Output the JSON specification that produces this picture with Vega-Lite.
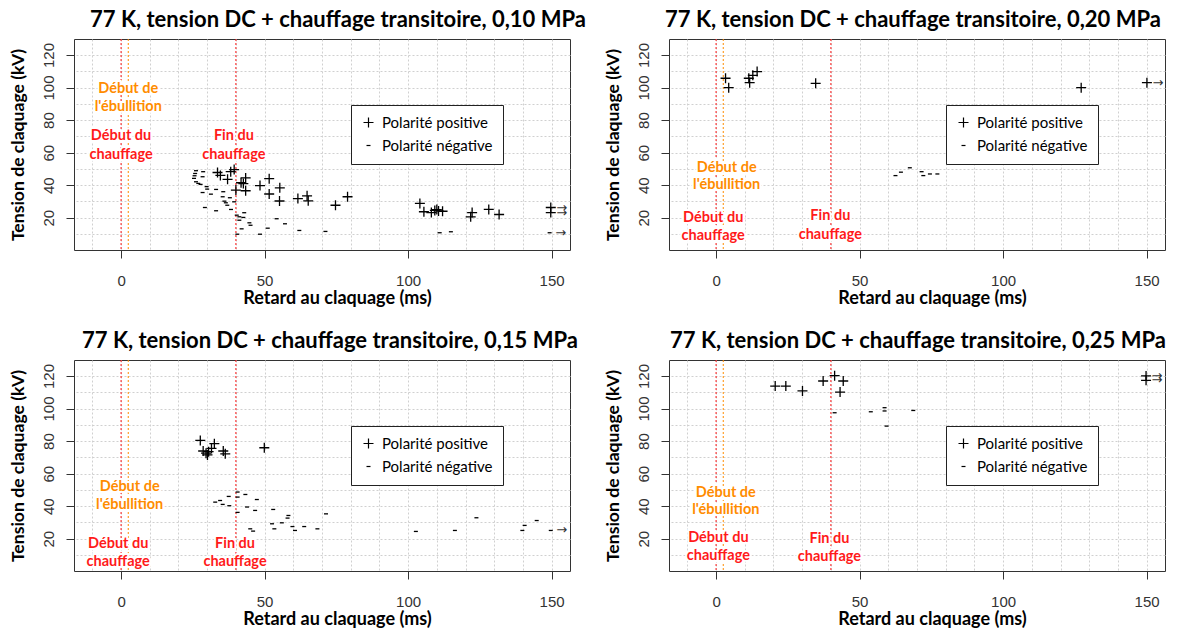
{
  "$schema": "https://vega.github.io/schema/vega-lite/v6.json",
  "background": "white",
  "padding": {"left": 8, "top": 8, "right": 4, "bottom": 4},
  "config": {
    "font": "Lato",
    "view": {"stroke": "#333", "strokeWidth": 1},
    "title": {"font": "Lato", "fontSize": 22, "fontWeight": "bold", "color": "black", "anchor": "middle", "frame": "group", "offset": 7},
    "axis": {
      "labelFont": "Liberation Sans", "labelFontSize": 15, "labelColor": "#333",
      "titleFont": "Lato", "titleFontSize": 18, "titleFontWeight": "bold", "titleColor": "black",
      "tickColor": "#333", "tickSize": 8, "gridColor": "#d0d0d0", "gridDash": [2, 2],
      "domain": false, "labelFlush": false, "labelOverlap": false
    },
    "axisX": {"labelPadding": 15, "titlePadding": 1},
    "axisY": {"labelPadding": 10, "titlePadding": 14, "titleFontSize": 17.6},
    "legend": {"orient": "none", "legendX": 277, "legendY": 66, "title": null, "strokeColor": "#222", "fillColor": "white", "padding": 10, "labelFont": "Lato", "labelFontSize": 15, "labelColor": "black", "symbolStrokeColor": "black", "symbolFillColor": "transparent", "symbolStrokeWidth": 1.2, "symbolSize": 100, "labelOffset": 6, "rowPadding": 7}
  },
  "datasets": {
    "vlines": [
      {"ms": 0, "ev": "chauffage"},
      {"ms": 2.5, "ev": "ébullition"},
      {"ms": 40, "ev": "chauffage"}
    ],
    "labels": [
      {"p": "0,10", "ms": 2.5, "kV": 98.9, "txt": "Début de", "ev": "ébullition"},
      {"p": "0,10", "ms": 2.5, "kV": 87.8, "txt": "l'ébullition", "ev": "ébullition"},
      {"p": "0,10", "ms": 0, "kV": 70, "txt": "Début du", "ev": "chauffage"},
      {"p": "0,10", "ms": 0, "kV": 58.5, "txt": "chauffage", "ev": "chauffage"},
      {"p": "0,10", "ms": 39.3, "kV": 70, "txt": "Fin du", "ev": "chauffage"},
      {"p": "0,10", "ms": 39.3, "kV": 58.5, "txt": "chauffage", "ev": "chauffage"},
      {"p": "0,20", "ms": 3.7, "kV": 50.3, "txt": "Début de", "ev": "ébullition"},
      {"p": "0,20", "ms": 3.7, "kV": 39.9, "txt": "l'ébullition", "ev": "ébullition"},
      {"p": "0,20", "ms": -1, "kV": 19.6, "txt": "Début du", "ev": "chauffage"},
      {"p": "0,20", "ms": -1, "kV": 9.1, "txt": "chauffage", "ev": "chauffage"},
      {"p": "0,20", "ms": 39.8, "kV": 21, "txt": "Fin du", "ev": "chauffage"},
      {"p": "0,20", "ms": 39.8, "kV": 9.7, "txt": "chauffage", "ev": "chauffage"},
      {"p": "0,15", "ms": 3, "kV": 51.8, "txt": "Début de", "ev": "ébullition"},
      {"p": "0,15", "ms": 3, "kV": 41, "txt": "l'ébullition", "ev": "ébullition"},
      {"p": "0,15", "ms": -1, "kV": 16.9, "txt": "Début du", "ev": "chauffage"},
      {"p": "0,15", "ms": -1, "kV": 5.6, "txt": "chauffage", "ev": "chauffage"},
      {"p": "0,15", "ms": 39.7, "kV": 17, "txt": "Fin du", "ev": "chauffage"},
      {"p": "0,15", "ms": 39.7, "kV": 5.6, "txt": "chauffage", "ev": "chauffage"},
      {"p": "0,25", "ms": 3.4, "kV": 48.2, "txt": "Début de", "ev": "ébullition"},
      {"p": "0,25", "ms": 3.4, "kV": 37.4, "txt": "l'ébullition", "ev": "ébullition"},
      {"p": "0,25", "ms": 0.8, "kV": 20.6, "txt": "Début du", "ev": "chauffage"},
      {"p": "0,25", "ms": 0.8, "kV": 9.4, "txt": "chauffage", "ev": "chauffage"},
      {"p": "0,25", "ms": 39.5, "kV": 20, "txt": "Fin du", "ev": "chauffage"},
      {"p": "0,25", "ms": 39.5, "kV": 8.9, "txt": "chauffage", "ev": "chauffage"}
    ],
    "pts": [
      {"p": "0,10", "ms": 33.6, "kV": 47.8, "pol": "Polarité positive"},
      {"p": "0,10", "ms": 34.6, "kV": 46.0, "pol": "Polarité positive"},
      {"p": "0,10", "ms": 37.1, "kV": 43.6, "pol": "Polarité positive"},
      {"p": "0,10", "ms": 38.2, "kV": 48.3, "pol": "Polarité positive"},
      {"p": "0,10", "ms": 39.4, "kV": 49.6, "pol": "Polarité positive"},
      {"p": "0,10", "ms": 43.4, "kV": 44.5, "pol": "Polarité positive"},
      {"p": "0,10", "ms": 41.8, "kV": 41.5, "pol": "Polarité positive"},
      {"p": "0,10", "ms": 42.6, "kV": 41.0, "pol": "Polarité positive"},
      {"p": "0,10", "ms": 40.0, "kV": 37.0, "pol": "Polarité positive"},
      {"p": "0,10", "ms": 43.4, "kV": 36.6, "pol": "Polarité positive"},
      {"p": "0,10", "ms": 48.4, "kV": 39.8, "pol": "Polarité positive"},
      {"p": "0,10", "ms": 51.6, "kV": 44.0, "pol": "Polarité positive"},
      {"p": "0,10", "ms": 55.3, "kV": 38.4, "pol": "Polarité positive"},
      {"p": "0,10", "ms": 51.6, "kV": 34.6, "pol": "Polarité positive"},
      {"p": "0,10", "ms": 55.2, "kV": 30.3, "pol": "Polarité positive"},
      {"p": "0,10", "ms": 61.6, "kV": 31.8, "pol": "Polarité positive"},
      {"p": "0,10", "ms": 64.8, "kV": 33.5, "pol": "Polarité positive"},
      {"p": "0,10", "ms": 65.2, "kV": 30.4, "pol": "Polarité positive"},
      {"p": "0,10", "ms": 74.7, "kV": 27.7, "pol": "Polarité positive"},
      {"p": "0,10", "ms": 78.9, "kV": 32.9, "pol": "Polarité positive"},
      {"p": "0,10", "ms": 104.1, "kV": 28.8, "pol": "Polarité positive"},
      {"p": "0,10", "ms": 105.5, "kV": 23.7, "pol": "Polarité positive"},
      {"p": "0,10", "ms": 108.1, "kV": 23.2, "pol": "Polarité positive"},
      {"p": "0,10", "ms": 109.3, "kV": 24.5, "pol": "Polarité positive"},
      {"p": "0,10", "ms": 110.0, "kV": 25.0, "pol": "Polarité positive"},
      {"p": "0,10", "ms": 110.6, "kV": 24.2, "pol": "Polarité positive"},
      {"p": "0,10", "ms": 112.0, "kV": 24.0, "pol": "Polarité positive"},
      {"p": "0,10", "ms": 121.8, "kV": 20.6, "pol": "Polarité positive"},
      {"p": "0,10", "ms": 122.3, "kV": 23.2, "pol": "Polarité positive"},
      {"p": "0,10", "ms": 128.1, "kV": 25.1, "pol": "Polarité positive"},
      {"p": "0,10", "ms": 131.7, "kV": 22.0, "pol": "Polarité positive"},
      {"p": "0,10", "ms": 149.7, "kV": 26.3, "pol": "Polarité positive", "cens": true},
      {"p": "0,10", "ms": 149.7, "kV": 23.2, "pol": "Polarité positive", "cens": true},
      {"p": "0,10", "ms": 26.1, "kV": 48.9, "pol": "Polarité négative"},
      {"p": "0,10", "ms": 25.8, "kV": 47.2, "pol": "Polarité négative"},
      {"p": "0,10", "ms": 28.6, "kV": 48.3, "pol": "Polarité négative"},
      {"p": "0,10", "ms": 25.6, "kV": 45.8, "pol": "Polarité négative"},
      {"p": "0,10", "ms": 28.4, "kV": 45.2, "pol": "Polarité négative"},
      {"p": "0,10", "ms": 25.4, "kV": 44.2, "pol": "Polarité négative"},
      {"p": "0,10", "ms": 26.1, "kV": 42.1, "pol": "Polarité négative"},
      {"p": "0,10", "ms": 26.9, "kV": 41.1, "pol": "Polarité négative"},
      {"p": "0,10", "ms": 27.7, "kV": 40.5, "pol": "Polarité négative"},
      {"p": "0,10", "ms": 29.8, "kV": 39.1, "pol": "Polarité négative"},
      {"p": "0,10", "ms": 30.0, "kV": 37.6, "pol": "Polarité négative"},
      {"p": "0,10", "ms": 33.1, "kV": 37.4, "pol": "Polarité négative"},
      {"p": "0,10", "ms": 35.6, "kV": 36.0, "pol": "Polarité négative"},
      {"p": "0,10", "ms": 28.4, "kV": 35.5, "pol": "Polarité négative"},
      {"p": "0,10", "ms": 31.3, "kV": 34.5, "pol": "Polarité négative"},
      {"p": "0,10", "ms": 35.4, "kV": 32.9, "pol": "Polarité négative"},
      {"p": "0,10", "ms": 37.9, "kV": 32.3, "pol": "Polarité négative"},
      {"p": "0,10", "ms": 36.0, "kV": 30.2, "pol": "Polarité négative"},
      {"p": "0,10", "ms": 36.5, "kV": 29.2, "pol": "Polarité négative"},
      {"p": "0,10", "ms": 37.0, "kV": 27.7, "pol": "Polarité négative"},
      {"p": "0,10", "ms": 39.4, "kV": 29.8, "pol": "Polarité négative"},
      {"p": "0,10", "ms": 29.2, "kV": 26.3, "pol": "Polarité négative"},
      {"p": "0,10", "ms": 33.1, "kV": 24.3, "pol": "Polarité négative"},
      {"p": "0,10", "ms": 38.3, "kV": 25.1, "pol": "Polarité négative"},
      {"p": "0,10", "ms": 40.3, "kV": 21.6, "pol": "Polarité négative"},
      {"p": "0,10", "ms": 42.9, "kV": 23.1, "pol": "Polarité négative"},
      {"p": "0,10", "ms": 41.2, "kV": 20.6, "pol": "Polarité négative"},
      {"p": "0,10", "ms": 42.6, "kV": 20.2, "pol": "Polarité négative"},
      {"p": "0,10", "ms": 41.2, "kV": 18.5, "pol": "Polarité négative"},
      {"p": "0,10", "ms": 44.7, "kV": 16.9, "pol": "Polarité négative"},
      {"p": "0,10", "ms": 45.1, "kV": 15.4, "pol": "Polarité négative"},
      {"p": "0,10", "ms": 42.0, "kV": 13.2, "pol": "Polarité négative"},
      {"p": "0,10", "ms": 54.2, "kV": 19.4, "pol": "Polarité négative"},
      {"p": "0,10", "ms": 57.1, "kV": 16.3, "pol": "Polarité négative"},
      {"p": "0,10", "ms": 51.1, "kV": 13.6, "pol": "Polarité négative"},
      {"p": "0,10", "ms": 40.5, "kV": 9.9, "pol": "Polarité négative"},
      {"p": "0,10", "ms": 48.4, "kV": 9.9, "pol": "Polarité négative"},
      {"p": "0,10", "ms": 62.1, "kV": 12.2, "pol": "Polarité négative"},
      {"p": "0,10", "ms": 71.2, "kV": 11.6, "pol": "Polarité négative"},
      {"p": "0,10", "ms": 111.0, "kV": 10.8, "pol": "Polarité négative"},
      {"p": "0,10", "ms": 114.9, "kV": 11.4, "pol": "Polarité négative"},
      {"p": "0,10", "ms": 149.3, "kV": 10.8, "pol": "Polarité négative", "cens": true},
      {"p": "0,20", "ms": 3.3, "kV": 105.7, "pol": "Polarité positive"},
      {"p": "0,20", "ms": 4.4, "kV": 99.9, "pol": "Polarité positive"},
      {"p": "0,20", "ms": 11.4, "kV": 105.7, "pol": "Polarité positive"},
      {"p": "0,20", "ms": 11.7, "kV": 103.0, "pol": "Polarité positive"},
      {"p": "0,20", "ms": 12.8, "kV": 107.5, "pol": "Polarité positive"},
      {"p": "0,20", "ms": 14.3, "kV": 109.8, "pol": "Polarité positive"},
      {"p": "0,20", "ms": 34.7, "kV": 102.6, "pol": "Polarité positive"},
      {"p": "0,20", "ms": 127.2, "kV": 99.9, "pol": "Polarité positive"},
      {"p": "0,20", "ms": 150.1, "kV": 103.0, "pol": "Polarité positive", "cens": true},
      {"p": "0,20", "ms": 62.5, "kV": 45.9, "pol": "Polarité négative"},
      {"p": "0,20", "ms": 64.4, "kV": 48.0, "pol": "Polarité négative"},
      {"p": "0,20", "ms": 67.5, "kV": 50.7, "pol": "Polarité négative"},
      {"p": "0,20", "ms": 71.6, "kV": 48.3, "pol": "Polarité négative"},
      {"p": "0,20", "ms": 72.2, "kV": 45.9, "pol": "Polarité négative"},
      {"p": "0,20", "ms": 74.5, "kV": 46.9, "pol": "Polarité négative"},
      {"p": "0,20", "ms": 77.1, "kV": 46.9, "pol": "Polarité négative"},
      {"p": "0,15", "ms": 27.6, "kV": 80.4, "pol": "Polarité positive"},
      {"p": "0,15", "ms": 28.6, "kV": 73.9, "pol": "Polarité positive"},
      {"p": "0,15", "ms": 29.6, "kV": 72.6, "pol": "Polarité positive"},
      {"p": "0,15", "ms": 30.1, "kV": 71.5, "pol": "Polarité positive"},
      {"p": "0,15", "ms": 30.5, "kV": 73.5, "pol": "Polarité positive"},
      {"p": "0,15", "ms": 31.5, "kV": 75.5, "pol": "Polarité positive"},
      {"p": "0,15", "ms": 32.5, "kV": 78.4, "pol": "Polarité positive"},
      {"p": "0,15", "ms": 35.6, "kV": 73.9, "pol": "Polarité positive"},
      {"p": "0,15", "ms": 36.3, "kV": 72.2, "pol": "Polarité positive"},
      {"p": "0,15", "ms": 49.9, "kV": 75.9, "pol": "Polarité positive"},
      {"p": "0,15", "ms": 32.8, "kV": 42.5, "pol": "Polarité négative"},
      {"p": "0,15", "ms": 34.5, "kV": 43.5, "pol": "Polarité négative"},
      {"p": "0,15", "ms": 35.4, "kV": 41.1, "pol": "Polarité négative"},
      {"p": "0,15", "ms": 37.7, "kV": 40.3, "pol": "Polarité négative"},
      {"p": "0,15", "ms": 37.5, "kV": 46.0, "pol": "Polarité négative"},
      {"p": "0,15", "ms": 40.6, "kV": 48.7, "pol": "Polarité négative"},
      {"p": "0,15", "ms": 40.6, "kV": 45.6, "pol": "Polarité négative"},
      {"p": "0,15", "ms": 43.3, "kV": 47.2, "pol": "Polarité négative"},
      {"p": "0,15", "ms": 47.3, "kV": 44.1, "pol": "Polarité négative"},
      {"p": "0,15", "ms": 43.9, "kV": 39.5, "pol": "Polarité négative"},
      {"p": "0,15", "ms": 40.6, "kV": 36.2, "pol": "Polarité négative"},
      {"p": "0,15", "ms": 46.7, "kV": 37.4, "pol": "Polarité négative"},
      {"p": "0,15", "ms": 53.0, "kV": 38.0, "pol": "Polarité négative"},
      {"p": "0,15", "ms": 58.3, "kV": 34.3, "pol": "Polarité négative"},
      {"p": "0,15", "ms": 58.0, "kV": 32.7, "pol": "Polarité négative"},
      {"p": "0,15", "ms": 56.0, "kV": 29.8, "pol": "Polarité négative"},
      {"p": "0,15", "ms": 52.6, "kV": 29.2, "pol": "Polarité négative"},
      {"p": "0,15", "ms": 59.7, "kV": 27.5, "pol": "Polarité négative"},
      {"p": "0,15", "ms": 63.8, "kV": 27.5, "pol": "Polarité négative"},
      {"p": "0,15", "ms": 53.4, "kV": 26.1, "pol": "Polarité négative"},
      {"p": "0,15", "ms": 60.6, "kV": 25.1, "pol": "Polarité négative"},
      {"p": "0,15", "ms": 68.4, "kV": 26.1, "pol": "Polarité négative"},
      {"p": "0,15", "ms": 71.4, "kV": 35.3, "pol": "Polarité négative"},
      {"p": "0,15", "ms": 45.0, "kV": 26.1, "pol": "Polarité négative"},
      {"p": "0,15", "ms": 46.0, "kV": 24.7, "pol": "Polarité négative"},
      {"p": "0,15", "ms": 102.7, "kV": 24.5, "pol": "Polarité négative"},
      {"p": "0,15", "ms": 116.3, "kV": 25.1, "pol": "Polarité négative"},
      {"p": "0,15", "ms": 123.8, "kV": 32.9, "pol": "Polarité négative"},
      {"p": "0,15", "ms": 140.6, "kV": 28.2, "pol": "Polarité négative"},
      {"p": "0,15", "ms": 139.8, "kV": 25.1, "pol": "Polarité négative"},
      {"p": "0,15", "ms": 144.8, "kV": 31.2, "pol": "Polarité négative"},
      {"p": "0,15", "ms": 149.7, "kV": 25.1, "pol": "Polarité négative", "cens": true},
      {"p": "0,25", "ms": 20.6, "kV": 113.8, "pol": "Polarité positive"},
      {"p": "0,25", "ms": 24.3, "kV": 113.8, "pol": "Polarité positive"},
      {"p": "0,25", "ms": 30.1, "kV": 110.8, "pol": "Polarité positive"},
      {"p": "0,25", "ms": 37.3, "kV": 116.9, "pol": "Polarité positive"},
      {"p": "0,25", "ms": 41.3, "kV": 120.2, "pol": "Polarité positive"},
      {"p": "0,25", "ms": 44.3, "kV": 116.9, "pol": "Polarité positive"},
      {"p": "0,25", "ms": 43.2, "kV": 110.1, "pol": "Polarité positive"},
      {"p": "0,25", "ms": 149.8, "kV": 120.0, "pol": "Polarité positive", "cens": true},
      {"p": "0,25", "ms": 149.8, "kV": 117.3, "pol": "Polarité positive", "cens": true},
      {"p": "0,25", "ms": 41.3, "kV": 97.4, "pol": "Polarité négative"},
      {"p": "0,25", "ms": 53.9, "kV": 98.0, "pol": "Polarité négative"},
      {"p": "0,25", "ms": 58.7, "kV": 100.5, "pol": "Polarité négative"},
      {"p": "0,25", "ms": 58.7, "kV": 98.5, "pol": "Polarité négative"},
      {"p": "0,25", "ms": 59.4, "kV": 89.2, "pol": "Polarité négative"},
      {"p": "0,25", "ms": 68.7, "kV": 98.8, "pol": "Polarité négative"}
    ]
  },
  "columns": 2,
  "spacing": {"row": 21, "column": 16},
  "resolve": {
    "scale": {"x": "independent", "y": "independent", "shape": "independent"},
    "legend": {"shape": "independent"}
  },
  "concat": [
    {
      "width": 496, "height": 211,
      "title": {"text": "77 K, tension DC + chauffage transitoire, 0,10 MPa", "dx": 16},
      "resolve": {"axis": {"x": "independent", "y": "independent"}},
      "layer": [
        {"data": {"name": "vlines"}, "mark": {"type": "rule", "strokeDash": [2, 2], "strokeWidth": 1},
         "encoding": {"x": {"field": "ms", "type": "quantitative", "scale": {"domain": [-16.4, 156.4], "nice": false, "zero": false},
                            "axis": {"orient": "top", "values": [-10, 0, 10, 20, 30, 40, 50, 60, 70, 80, 90, 100, 110, 120, 130, 140, 150], "grid": true, "labels": false, "ticks": false, "domain": false, "title": null}},
                      "color": {"field": "ev", "type": "nominal", "scale": {"domain": ["chauffage", "ébullition"], "range": ["#ff1a1a", "#ff8c00"]}, "legend": null}}},
        {"data": {"name": "labels"}, "transform": [{"filter": "datum.p === '0,10'"}],
         "mark": {"type": "text", "font": "Lato", "fontSize": 14.5, "fontWeight": "bold", "stroke": "white", "strokeWidth": 4, "align": "center", "baseline": "middle"},
         "encoding": {"x": {"field": "ms", "type": "quantitative", "axis": null},
                      "y": {"field": "kV", "type": "quantitative", "scale": {"domain": [0.2, 129.8], "nice": false, "zero": false},
                            "axis": {"orient": "right", "values": [10, 20, 30, 40, 50, 60, 70, 80, 90, 100, 110, 120], "grid": true, "labels": false, "ticks": false, "domain": false, "title": null}},
                      "text": {"field": "txt"}, "color": {"field": "ev", "type": "nominal", "legend": null}}},
        {"data": {"name": "labels"}, "transform": [{"filter": "datum.p === '0,10'"}],
         "mark": {"type": "text", "font": "Lato", "fontSize": 14.5, "fontWeight": "bold", "align": "center", "baseline": "middle"},
         "encoding": {"x": {"field": "ms", "type": "quantitative", "axis": null}, "y": {"field": "kV", "type": "quantitative", "axis": null},
                      "text": {"field": "txt"}, "color": {"field": "ev", "type": "nominal", "legend": null}}},
        {"data": {"name": "pts"}, "transform": [{"filter": "datum.p === '0,10'"}],
         "mark": {"type": "point", "filled": false, "color": "black", "strokeWidth": 1.3, "size": 100, "opacity": 1},
         "encoding": {
           "x": {"field": "ms", "type": "quantitative", "axis": {"orient": "bottom", "title": "Retard au claquage (ms)", "values": [0, 50, 100, 150], "grid": false, "titleX": 263}},
           "y": {"field": "kV", "type": "quantitative", "axis": {"orient": "left", "title": "Tension de claquage (kV)", "values": [20, 40, 60, 80, 100, 120], "labelAngle": 270, "grid": false}},
           "shape": {"field": "pol", "type": "nominal", "scale": {"domain": ["Polarité positive", "Polarité négative"], "range": ["M-1,0L1,0M0,-1L0,1", "M-0.4,0L0.4,0"]}}
         }},
        {"data": {"name": "pts"}, "transform": [{"filter": "datum.p === '0,10' && datum.cens === true"}],
         "mark": {"type": "text", "text": "→", "font": "DejaVu Sans", "fontSize": 13, "color": "#333", "dx": 11, "align": "center", "baseline": "middle"},
         "encoding": {"x": {"field": "ms", "type": "quantitative", "axis": null}, "y": {"field": "kV", "type": "quantitative", "axis": null}}}
      ]
    },
    {
      "width": 496, "height": 211,
      "title": {"text": "77 K, tension DC + chauffage transitoire, 0,20 MPa", "dx": -4},
      "resolve": {"axis": {"x": "independent", "y": "independent"}},
      "layer": [
        {"data": {"name": "vlines"}, "mark": {"type": "rule", "strokeDash": [2, 2], "strokeWidth": 1},
         "encoding": {"x": {"field": "ms", "type": "quantitative", "scale": {"domain": [-16.4, 156.4], "nice": false, "zero": false},
                            "axis": {"orient": "top", "values": [-10, 0, 10, 20, 30, 40, 50, 60, 70, 80, 90, 100, 110, 120, 130, 140, 150], "grid": true, "labels": false, "ticks": false, "domain": false, "title": null}},
                      "color": {"field": "ev", "type": "nominal", "scale": {"domain": ["chauffage", "ébullition"], "range": ["#ff1a1a", "#ff8c00"]}, "legend": null}}},
        {"data": {"name": "labels"}, "transform": [{"filter": "datum.p === '0,20'"}],
         "mark": {"type": "text", "font": "Lato", "fontSize": 14.5, "fontWeight": "bold", "stroke": "white", "strokeWidth": 4, "align": "center", "baseline": "middle"},
         "encoding": {"x": {"field": "ms", "type": "quantitative", "axis": null},
                      "y": {"field": "kV", "type": "quantitative", "scale": {"domain": [0.2, 129.8], "nice": false, "zero": false},
                            "axis": {"orient": "right", "values": [10, 20, 30, 40, 50, 60, 70, 80, 90, 100, 110, 120], "grid": true, "labels": false, "ticks": false, "domain": false, "title": null}},
                      "text": {"field": "txt"}, "color": {"field": "ev", "type": "nominal", "legend": null}}},
        {"data": {"name": "labels"}, "transform": [{"filter": "datum.p === '0,20'"}],
         "mark": {"type": "text", "font": "Lato", "fontSize": 14.5, "fontWeight": "bold", "align": "center", "baseline": "middle"},
         "encoding": {"x": {"field": "ms", "type": "quantitative", "axis": null}, "y": {"field": "kV", "type": "quantitative", "axis": null},
                      "text": {"field": "txt"}, "color": {"field": "ev", "type": "nominal", "legend": null}}},
        {"data": {"name": "pts"}, "transform": [{"filter": "datum.p === '0,20'"}],
         "mark": {"type": "point", "filled": false, "color": "black", "strokeWidth": 1.3, "size": 100, "opacity": 1},
         "encoding": {
           "x": {"field": "ms", "type": "quantitative", "axis": {"orient": "bottom", "title": "Retard au claquage (ms)", "values": [0, 50, 100, 150], "grid": false, "titleX": 263}},
           "y": {"field": "kV", "type": "quantitative", "axis": {"orient": "left", "title": "Tension de claquage (kV)", "values": [20, 40, 60, 80, 100, 120], "labelAngle": 270, "grid": false}},
           "shape": {"field": "pol", "type": "nominal", "scale": {"domain": ["Polarité positive", "Polarité négative"], "range": ["M-1,0L1,0M0,-1L0,1", "M-0.4,0L0.4,0"]}}
         }},
        {"data": {"name": "pts"}, "transform": [{"filter": "datum.p === '0,20' && datum.cens === true"}],
         "mark": {"type": "text", "text": "→", "font": "DejaVu Sans", "fontSize": 13, "color": "#333", "dx": 11, "align": "center", "baseline": "middle"},
         "encoding": {"x": {"field": "ms", "type": "quantitative", "axis": null}, "y": {"field": "kV", "type": "quantitative", "axis": null}}}
      ]
    },
    {
      "width": 496, "height": 211,
      "title": {"text": "77 K, tension DC + chauffage transitoire, 0,15 MPa", "dx": 8},
      "resolve": {"axis": {"x": "independent", "y": "independent"}},
      "layer": [
        {"data": {"name": "vlines"}, "mark": {"type": "rule", "strokeDash": [2, 2], "strokeWidth": 1},
         "encoding": {"x": {"field": "ms", "type": "quantitative", "scale": {"domain": [-16.4, 156.4], "nice": false, "zero": false},
                            "axis": {"orient": "top", "values": [-10, 0, 10, 20, 30, 40, 50, 60, 70, 80, 90, 100, 110, 120, 130, 140, 150], "grid": true, "labels": false, "ticks": false, "domain": false, "title": null}},
                      "color": {"field": "ev", "type": "nominal", "scale": {"domain": ["chauffage", "ébullition"], "range": ["#ff1a1a", "#ff8c00"]}, "legend": null}}},
        {"data": {"name": "labels"}, "transform": [{"filter": "datum.p === '0,15'"}],
         "mark": {"type": "text", "font": "Lato", "fontSize": 14.5, "fontWeight": "bold", "stroke": "white", "strokeWidth": 4, "align": "center", "baseline": "middle"},
         "encoding": {"x": {"field": "ms", "type": "quantitative", "axis": null},
                      "y": {"field": "kV", "type": "quantitative", "scale": {"domain": [0.2, 129.8], "nice": false, "zero": false},
                            "axis": {"orient": "right", "values": [10, 20, 30, 40, 50, 60, 70, 80, 90, 100, 110, 120], "grid": true, "labels": false, "ticks": false, "domain": false, "title": null}},
                      "text": {"field": "txt"}, "color": {"field": "ev", "type": "nominal", "legend": null}}},
        {"data": {"name": "labels"}, "transform": [{"filter": "datum.p === '0,15'"}],
         "mark": {"type": "text", "font": "Lato", "fontSize": 14.5, "fontWeight": "bold", "align": "center", "baseline": "middle"},
         "encoding": {"x": {"field": "ms", "type": "quantitative", "axis": null}, "y": {"field": "kV", "type": "quantitative", "axis": null},
                      "text": {"field": "txt"}, "color": {"field": "ev", "type": "nominal", "legend": null}}},
        {"data": {"name": "pts"}, "transform": [{"filter": "datum.p === '0,15'"}],
         "mark": {"type": "point", "filled": false, "color": "black", "strokeWidth": 1.3, "size": 100, "opacity": 1},
         "encoding": {
           "x": {"field": "ms", "type": "quantitative", "axis": {"orient": "bottom", "title": "Retard au claquage (ms)", "values": [0, 50, 100, 150], "grid": false, "titleX": 263}},
           "y": {"field": "kV", "type": "quantitative", "axis": {"orient": "left", "title": "Tension de claquage (kV)", "values": [20, 40, 60, 80, 100, 120], "labelAngle": 270, "grid": false}},
           "shape": {"field": "pol", "type": "nominal", "scale": {"domain": ["Polarité positive", "Polarité négative"], "range": ["M-1,0L1,0M0,-1L0,1", "M-0.4,0L0.4,0"]}}
         }},
        {"data": {"name": "pts"}, "transform": [{"filter": "datum.p === '0,15' && datum.cens === true"}],
         "mark": {"type": "text", "text": "→", "font": "DejaVu Sans", "fontSize": 13, "color": "#333", "dx": 11, "align": "center", "baseline": "middle"},
         "encoding": {"x": {"field": "ms", "type": "quantitative", "axis": null}, "y": {"field": "kV", "type": "quantitative", "axis": null}}}
      ]
    },
    {
      "width": 496, "height": 211,
      "title": {"text": "77 K, tension DC + chauffage transitoire, 0,25 MPa", "dx": 1},
      "resolve": {"axis": {"x": "independent", "y": "independent"}},
      "layer": [
        {"data": {"name": "vlines"}, "mark": {"type": "rule", "strokeDash": [2, 2], "strokeWidth": 1},
         "encoding": {"x": {"field": "ms", "type": "quantitative", "scale": {"domain": [-16.4, 156.4], "nice": false, "zero": false},
                            "axis": {"orient": "top", "values": [-10, 0, 10, 20, 30, 40, 50, 60, 70, 80, 90, 100, 110, 120, 130, 140, 150], "grid": true, "labels": false, "ticks": false, "domain": false, "title": null}},
                      "color": {"field": "ev", "type": "nominal", "scale": {"domain": ["chauffage", "ébullition"], "range": ["#ff1a1a", "#ff8c00"]}, "legend": null}}},
        {"data": {"name": "labels"}, "transform": [{"filter": "datum.p === '0,25'"}],
         "mark": {"type": "text", "font": "Lato", "fontSize": 14.5, "fontWeight": "bold", "stroke": "white", "strokeWidth": 4, "align": "center", "baseline": "middle"},
         "encoding": {"x": {"field": "ms", "type": "quantitative", "axis": null},
                      "y": {"field": "kV", "type": "quantitative", "scale": {"domain": [0.2, 129.8], "nice": false, "zero": false},
                            "axis": {"orient": "right", "values": [10, 20, 30, 40, 50, 60, 70, 80, 90, 100, 110, 120], "grid": true, "labels": false, "ticks": false, "domain": false, "title": null}},
                      "text": {"field": "txt"}, "color": {"field": "ev", "type": "nominal", "legend": null}}},
        {"data": {"name": "labels"}, "transform": [{"filter": "datum.p === '0,25'"}],
         "mark": {"type": "text", "font": "Lato", "fontSize": 14.5, "fontWeight": "bold", "align": "center", "baseline": "middle"},
         "encoding": {"x": {"field": "ms", "type": "quantitative", "axis": null}, "y": {"field": "kV", "type": "quantitative", "axis": null},
                      "text": {"field": "txt"}, "color": {"field": "ev", "type": "nominal", "legend": null}}},
        {"data": {"name": "pts"}, "transform": [{"filter": "datum.p === '0,25'"}],
         "mark": {"type": "point", "filled": false, "color": "black", "strokeWidth": 1.3, "size": 100, "opacity": 1},
         "encoding": {
           "x": {"field": "ms", "type": "quantitative", "axis": {"orient": "bottom", "title": "Retard au claquage (ms)", "values": [0, 50, 100, 150], "grid": false, "titleX": 263}},
           "y": {"field": "kV", "type": "quantitative", "axis": {"orient": "left", "title": "Tension de claquage (kV)", "values": [20, 40, 60, 80, 100, 120], "labelAngle": 270, "grid": false}},
           "shape": {"field": "pol", "type": "nominal", "scale": {"domain": ["Polarité positive", "Polarité négative"], "range": ["M-1,0L1,0M0,-1L0,1", "M-0.4,0L0.4,0"]}}
         }},
        {"data": {"name": "pts"}, "transform": [{"filter": "datum.p === '0,25' && datum.cens === true"}],
         "mark": {"type": "text", "text": "→", "font": "DejaVu Sans", "fontSize": 13, "color": "#333", "dx": 11, "align": "center", "baseline": "middle"},
         "encoding": {"x": {"field": "ms", "type": "quantitative", "axis": null}, "y": {"field": "kV", "type": "quantitative", "axis": null}}}
      ]
    }
  ]
}
